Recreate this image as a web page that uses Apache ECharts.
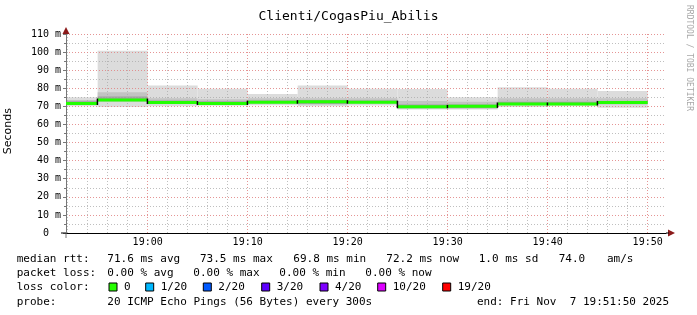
<!DOCTYPE html>
<html>
<head>
<meta charset="utf-8">
<script src="https://cdn.jsdelivr.net/npm/echarts@6/dist/echarts.min.js"></script>
<style>
html,body{margin:0;padding:0;background:#fff;}
#chart{width:697px;height:315px;}
</style>
</head>
<body>
<div id="chart"></div>
<script>
// ---- data ----
const binEnds = ["18:55","19:00","19:05","19:10","19:15","19:20","19:25","19:30","19:35","19:40","19:45","19:50"];
const medianMs = [71.6,73.5,72.1,71.6,72.3,72.6,72.3,69.8,70.0,71.3,71.3,72.2];
const smokeMin = [70.1,69.7,70.0,70.3,70.6,70.0,70.5,68.2,68.2,69.7,70.0,69.2];
const smokeLo = [71.0,72.5,71.5,71.0,71.5,71.5,71.5,69.0,69.0,70.8,70.8,71.0];
const smokeInnerLo = [71.0,73.0,71.5,71.2,71.8,71.2,71.8,69.0,69.0,70.8,70.8,71.5];
const smokeInnerHi = [72.8,75.5,73.3,72.8,73.3,73.5,73.3,71.0,71.0,72.5,72.5,73.0];
const smokeHi = [73.5,77.8,74.5,74.0,74.5,74.5,74.5,73.0,72.5,74.5,74.5,74.5];
const smokeMax = [75.0,100.7,81.6,79.8,76.8,81.6,79.7,79.6,75.1,80.6,79.8,78.5];
const xTickLabels = ["19:00","19:10","19:20","19:30","19:40","19:50"];
const stepMinutes = 5;
const rangeStart = "18:51:50";
const rangeEnd = "19:51:50";

const title = "Clienti/CogasPiu_Abilis";
const legendLine1 = [["median rtt:",16.7],["71.6 ms avg",107.3],["73.5 ms max",200],["69.8 ms min",293.3],["72.2 ms now",386.3],["1.0 ms sd",478.7],["74.0",558.7],["am/s",607]];
const legendLine2 = [["packet loss:",16.7],["0.00 % avg",107.3],["0.00 % max",193.3],["0.00 % min",279.3],["0.00 % now",365.3]];
const lossLabels = ["0","1/20","2/20","3/20","4/20","10/20","19/20"];
const lossColors = ["#26ff00","#00b8ff","#0059ff","#5e00ff","#7e00ff","#dd00ff","#ff0000"];
const lossBoxX = [109,145.7,203.3,261.7,320,377.7,442.7];
const legendLine4 = [["probe:",16.7],["20 ICMP Echo Pings (56 Bytes) every 300s",107.3],["end: Fri Nov  7 19:51:50 2025",477]];

// ---- helpers ----
function toMin(s){ const p=s.split(':').map(Number); return (p[0]-18)*60+p[1]+(p[2]||0)/60; }
const xMin = toMin(rangeStart), xMax = toMin(rangeEnd);
const majorTicks = xTickLabels.map(toMin);
const minorTicks = [];
for (let m = Math.ceil(xMin/2)*2; m <= xMax; m += 2) { if (m % 10 !== 0) minorTicks.push(m); }
function fmtMin(v){ const t=Math.round(v); const h=18+Math.floor(t/60); const m=t%60; return h+':'+(m<10?'0':'')+m; }

const smokeData = binEnds.map((e,i)=>{ const end=toMin(e); return [end-stepMinutes,end,smokeMin[i],smokeLo[i],smokeInnerLo[i],smokeInnerHi[i],smokeHi[i],smokeMax[i]]; });
const medianData = binEnds.map((e,i)=>{ const end=toMin(e); return [end-stepMinutes,end,medianMs[i],i>0?medianMs[i-1]:medianMs[i]]; });

const MONO = "'DejaVu Sans Mono', monospace";
const redGrid = {color:'rgba(225,130,130,0.85)', type:[1,2], width:1};
const greyGrid = {color:'rgba(170,170,170,0.75)', type:[1,2], width:1};

function renderSmoke(params, api){
  const x0=api.value(0), x1=api.value(1);
  const layers=[[2,7,'#dcdcdc'],[3,6,'#c3c3c3'],[4,5,'#a0a0a0']];
  return {type:'group', children: layers.map(([a,b,c])=>{
    const p0=api.coord([x0,api.value(b)]); const p1=api.coord([x1,api.value(a)]);
    return {type:'rect', shape:{x:p0[0], y:p0[1], width:p1[0]-p0[0], height:p1[1]-p0[1]}, style:{fill:c}};
  })};
}
function renderMedian(params, api){
  const x0=api.value(0), x1=api.value(1);
  const p0=api.coord([x0,api.value(2)]); const p1=api.coord([x1,api.value(2)]);
  const pp=api.coord([x0,api.value(3)]);
  const children=[{type:'rect', shape:{x:p0[0], y:p0[1]-1.5, width:p1[0]-p0[0], height:3}, style:{fill:'#22ff00'}}];
  if (params.dataIndex>0) {
    const top=Math.min(pp[1],p0[1])-1.5, bot=Math.max(pp[1],p0[1])+1.5;
    children.push({type:'rect', shape:{x:p0[0]-1, y:top, width:1.5, height:bot-top}, style:{fill:'#000'}});
  }
  return {type:'group', children};
}

const graphics = [];
graphics.push({type:'text', left:3, top:108, rotation:Math.PI/2, style:{text:'Seconds', font:"11px 'DejaVu Sans', sans-serif", fill:'#000', x:0, y:0}});
graphics.push({type:'text', x:689, y:5, rotation:-Math.PI/2, style:{text:'RRDTOOL / TOBI OETIKER', font:"8px 'DejaVu Sans Mono', monospace", fill:'#a8a8a8', align:'left', verticalAlign:'middle'}});
function addLine(items,y){ items.forEach(([t,x])=>graphics.push({type:'text', x:x, y:y, style:{text:t, font:"11px "+MONO, fill:'#000', align:'left', verticalAlign:'middle'}})); }
addLine(legendLine1,259);
addLine(legendLine2,273.3);
addLine([["loss color:",16.7]],287);
lossLabels.forEach((l,i)=>{
  graphics.push({type:'rect', shape:{x:lossBoxX[i], y:283, width:8, height:8}, style:{fill:lossColors[i], stroke:'#000', lineWidth:1}});
  graphics.push({type:'text', x:lossBoxX[i]+15, y:287, style:{text:l, font:"11px "+MONO, fill:'#000', align:'left', verticalAlign:'middle'}});
});
addLine(legendLine4,301.7);
// axis arrows
graphics.push({type:'polygon', shape:{points:[[66,27],[62.5,34],[69.5,34]]}, style:{fill:'#8b1a1a'}, z:20});
graphics.push({type:'polygon', shape:{points:[[675,233],[668,229.5],[668,236.5]]}, style:{fill:'#8b1a1a'}, z:20});
graphics.push({type:'line', shape:{x1:666,y1:233,x2:669,y2:233}, style:{stroke:'#000',lineWidth:1}, z:20});
graphics.push({type:'line', shape:{x1:66,y1:233,x2:66,y2:238}, style:{stroke:'#777',lineWidth:1}, z:20});
graphics.push({type:'line', shape:{x1:61,y1:233,x2:66,y2:233}, style:{stroke:'#000',lineWidth:1}, z:20});

const chart = echarts.init(document.getElementById('chart'), null, {renderer:'canvas'});
chart.setOption({
  animation:false,
  backgroundColor:'#ffffff',
  title:{text:title, left:'center', top:5, textStyle:{fontFamily:MONO, fontSize:13, fontWeight:'normal', color:'#000'}},
  grid:{left:66, right:31, top:34, bottom:82, containLabel:false},
  xAxis:[
    {type:'value', min:xMin, max:xMax, z:5,
     axisLine:{show:true, onZero:false, lineStyle:{color:'#000', width:1}},
     axisTick:{show:false, customValues:majorTicks},
     axisLabel:{customValues:majorTicks, formatter:fmtMin, fontFamily:MONO, fontSize:10, color:'#000', margin:4, hideOverlap:false},
     splitLine:{show:true, lineStyle:redGrid}},
    {type:'value', min:xMin, max:xMax, z:4, position:'bottom',
     axisLine:{show:false}, axisTick:{show:false, customValues:minorTicks},
     axisLabel:{show:false, customValues:minorTicks},
     splitLine:{show:true, lineStyle:greyGrid}}
  ],
  yAxis:{type:'value', min:0, max:110, interval:10, z:5,
    axisLine:{show:true, lineStyle:{color:'#777', width:1}},
    axisTick:{show:true, length:3, lineStyle:{color:'#777'}},
    minorTick:{show:true, splitNumber:2, length:2, lineStyle:{color:'#777'}},
    axisLabel:{formatter:v=>v===0?'0  ':v+' m', fontFamily:MONO, fontSize:10, color:'#000', margin:5},
    splitLine:{show:true, lineStyle:redGrid},
    minorSplitLine:{show:true, lineStyle:greyGrid}},
  graphic:graphics,
  series:[
    {type:'custom', name:'smoke', xAxisIndex:0, renderItem:renderSmoke, data:smokeData, clip:true, z:2, encode:{x:[0,1], y:[2,7]}},
    {type:'custom', name:'median', xAxisIndex:0, renderItem:renderMedian, data:medianData, clip:true, z:10, encode:{x:[0,1], y:[2]}}
  ]
});
</script>
</body>
</html>
